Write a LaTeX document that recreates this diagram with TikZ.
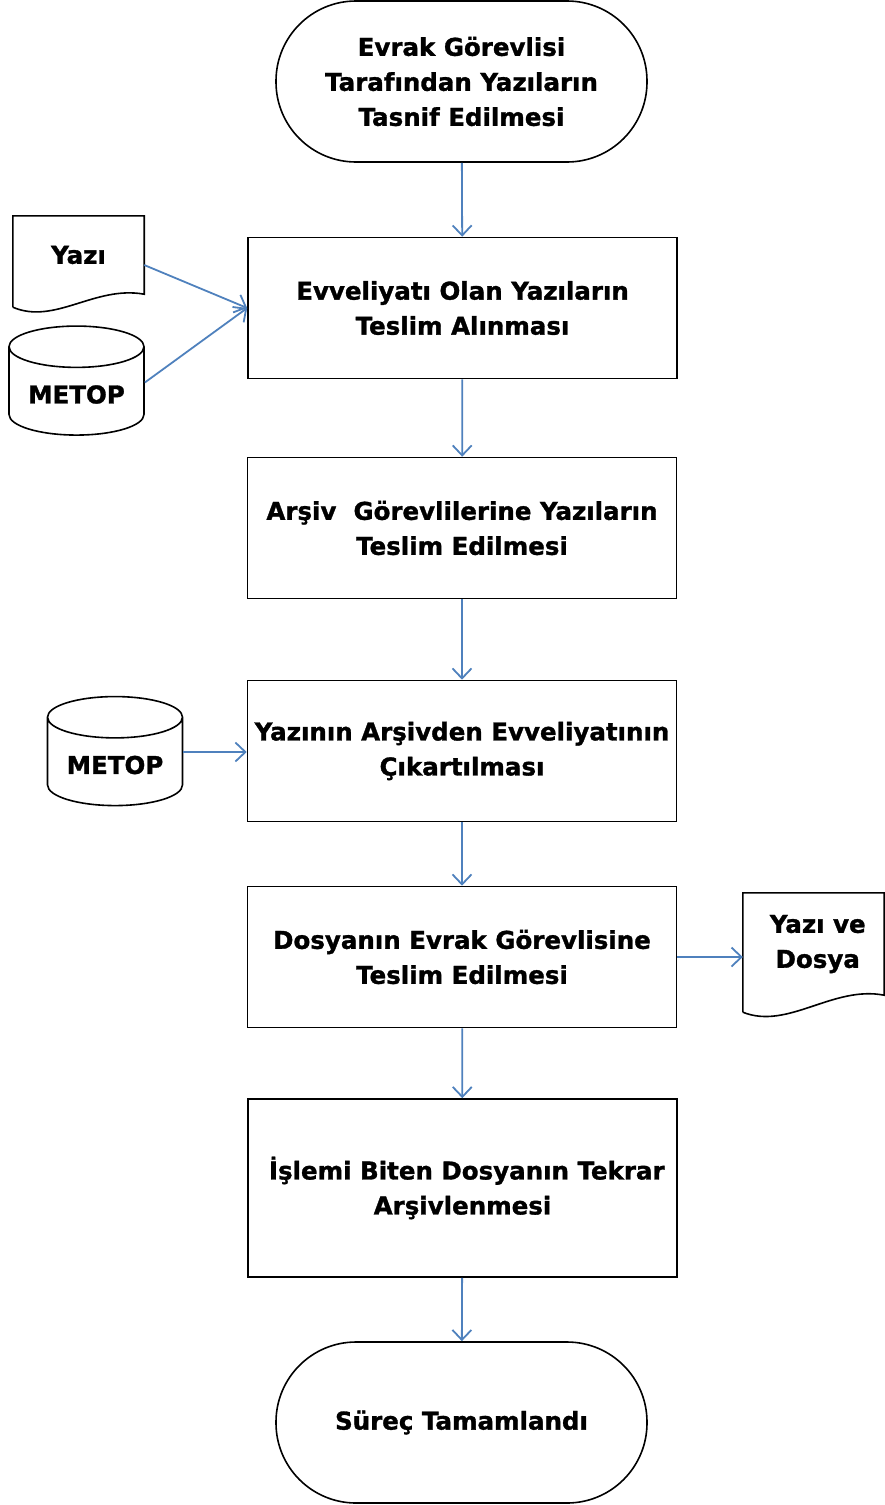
\documentclass[tikz,border=0pt]{standalone}
\usepackage{fontspec}
\setmainfont{DejaVu Sans}[BoldFeatures={FakeBold=1.3}]
\usetikzlibrary{arrows.meta,shapes.geometric,calc}

\begin{document}
\begin{tikzpicture}[x=1pt,y=-1pt,
    every node/.style={font=\fontsize{24.5}{35}\selectfont\bfseries, align=center},
    line/.style={line width=1.6pt, black},
    term/.style={line, draw, rectangle, rounded corners=80pt, minimum width=371pt, minimum height=161pt},
    proc/.style={line, draw, rectangle, minimum width=429pt, minimum height=141pt},
    docu/.style={rectangle, inner sep=0pt},
    db/.style={line, draw, cylinder, shape border rotate=90, aspect=0.4, minimum width=135pt, minimum height=109pt},
    flow/.style={line width=1.8pt, color={rgb,255:red,79;green,129;blue,189}, -{Straight Barb[length=10pt,width=19pt]}}]
    \useasboundingbox (0,0) rectangle (885,1505);

    % Main steps
    \node[term] (basla) at (461.5,81.5) {Evrak Görevlisi\\Tarafından Yazıların\\Tasnif Edilmesi};
    \node[proc] (teslimal) at (462.5,308) {Evveliyatı Olan Yazıların\\Teslim Alınması};
    \node[proc] (arsiv) at (462,528) {Arşiv\ \ Görevlilerine Yazıların\\Teslim Edilmesi};
    \node[proc] (cikar) at (462,751) {Yazının Arşivden Evveliyatının\\Çıkartılması};
    \node[proc] (dosya) at (462,957) {Dosyanın Evrak Görevlisine\\Teslim Edilmesi};
    \node[proc, minimum height=178pt] (tekrar) at (462.5,1188) {\ İşlemi Biten Dosyanın Tekrar\\Arşivlenmesi};
    \node[term] (bitir) at (461.5,1422.5) {Süreç Tamamlandı};

    % Inputs and outputs
    \node[docu, minimum width=131pt, minimum height=78pt] (yazi) at (78.5,255) {Yazı};
    \draw[line] ($(yazi.south west)+(0,13)$) -- (yazi.north west) -- (yazi.north east) -- (yazi.south east)
        .. controls ($(yazi.south west)+(82,-9)$) and ($(yazi.south west)+(42,31)$) .. ($(yazi.south west)+(0,13)$);
    \node[db] (metop) at (76.5,394.5) {METOP};
    \node[db] (metopiki) at (115,765) {METOP};
    \node[docu, minimum width=141pt, minimum height=102pt] (yazidosya) at (813.5,944) {\ Yazı ve\\\ Dosya};
    \draw[line] ($(yazidosya.south west)+(0,17)$) -- (yazidosya.north west) -- (yazidosya.north east) -- (yazidosya.south east)
        .. controls ($(yazidosya.south west)+(90,-10)$) and ($(yazidosya.south west)+(45,35)$) .. ($(yazidosya.south west)+(0,17)$);

    % Arrows
    \draw[flow] (basla) -- (teslimal);
    \draw[flow] (teslimal) -- (arsiv);
    \draw[flow] (arsiv) -- (cikar);
    \draw[flow] (cikar) -- (dosya);
    \draw[flow] (dosya) -- (tekrar);
    \draw[flow] (tekrar) -- (bitir);
    \draw[flow] ([yshift=-10pt]yazi.east) -- (teslimal.west);
    \draw[flow] ([yshift=12pt]metop.east) -- (teslimal.west);
    \draw[flow] ([yshift=13pt]metopiki.east) -- ([yshift=13pt]metopiki.east -| cikar.west);
    \draw[flow] (dosya.east) -- (dosya.east -| yazidosya.west);
\end{tikzpicture}
\end{document}
